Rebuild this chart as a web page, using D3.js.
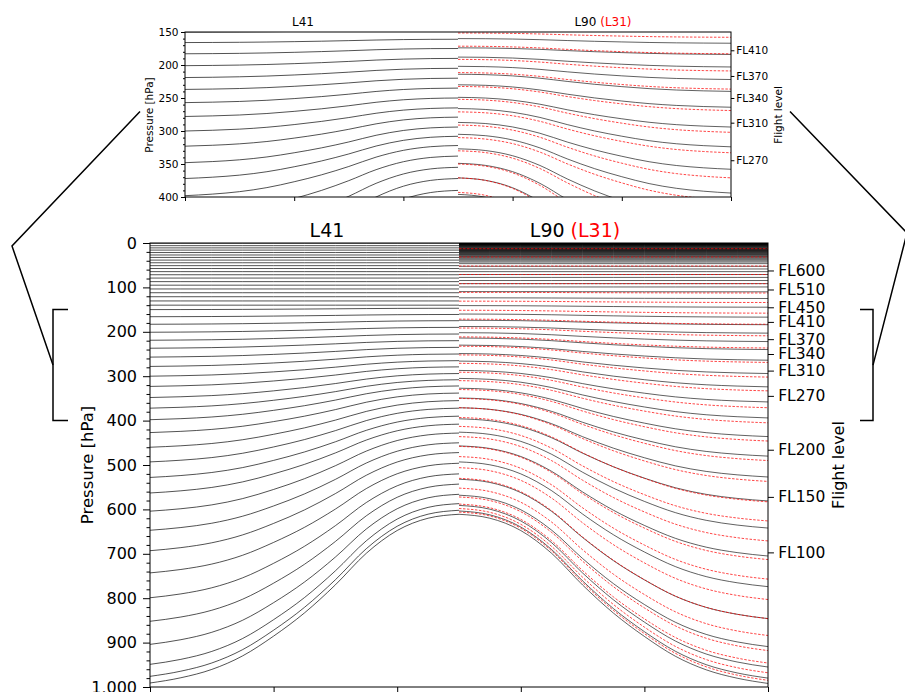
<!DOCTYPE html>
<html>
<head>
<meta charset="utf-8">
<script src="https://cdn.jsdelivr.net/npm/d3@7"></script>
<style>
  body { margin: 0; background: #fff; }
  svg { display: block; }
  text { font-family: "DejaVu Sans", sans-serif; fill: #000; }
</style>
</head>
<body>
<script>
// ---------------- data ----------------
const xTicks = [0, 1, 2, 3, 4, 5];
const pressureTicks = [0, 100, 200, 300, 400, 500, 600, 700, 800, 900, 1000];
const insetPressureTicks = [150, 200, 250, 300, 350, 400];
const flightLevels = ["FL600", "FL510", "FL450", "FL410", "FL370", "FL340", "FL310", "FL270", "FL200", "FL150", "FL100"];
const flightLevelPressure = [61.9, 104.7, 144.8, 177.7, 216.6, 250.0, 287.4, 344.3, 465.6, 571.8, 696.8];
const insetFlightLevels = ["FL410", "FL370", "FL340", "FL310", "FL270"];
const insetFlightLevelPressure = [177.7, 216.6, 250.0, 287.4, 344.3];

// idealised mountain: surface pressure (hPa) along the x axis
const terrainX = [0, 0.25, 0.5, 0.75, 1, 1.25, 1.5, 1.75, 2, 2.25, 2.5, 2.75, 3, 3.25, 3.5, 3.75, 4, 4.25, 4.5, 4.75, 5];
const surfacePressure = [1000, 988, 969, 938, 893, 840, 776, 704, 652, 624, 615, 624, 652, 704, 776, 840, 893, 938, 969, 988, 1000];

// L41: pure pressure levels (hPa) and hybrid levels (pressure over the plain / over the summit)
const l41Flat = [0.5, 6, 11, 16, 21.5, 27, 32.5, 38.5, 44.5, 51, 57.5, 64.5, 71.5, 79, 87, 95, 103.5, 112, 121, 130.5, 140];
const l41Edge = [150, 166, 183, 201, 219, 237, 257, 278, 300, 323, 348, 372, 398, 427, 460, 493, 528, 563, 604, 647, 693, 743, 799, 852, 904, 949, 976, 991];
const l41Peak = [147, 161, 175, 190, 205, 220, 235, 250, 265, 279, 294, 308, 322, 338, 355, 372, 390, 408, 428, 450, 472, 496, 520, 543, 566, 587, 602, 611];

// L90
const l90Flat = [0.01, 0.02, 0.03, 0.045, 0.065, 0.09, 0.12, 0.16, 0.21, 0.27, 0.35, 0.45, 0.57, 0.72, 0.9,
  1.1, 1.35, 1.65, 2.0, 2.4, 2.85, 3.35, 3.9, 4.5, 5.2, 5.9, 6.7, 7.5, 8.4, 9.4,
  10.6, 11.6, 12.5, 13.4, 14.3, 15.2, 16.1, 17.0, 17.9, 18.9, 19.9, 21.0, 22.1, 23.3, 24.5,
  25.8, 27.2, 28.7, 30.3, 32.0, 33.8, 35.8, 38.0, 40.4, 43.0,
  46.5, 52.5, 58.5, 64.5, 71, 77.5, 84.5, 91.5, 99];
const l90Edge = [110, 125, 144.6, 167, 184, 203, 222, 240, 264, 294, 324, 358, 394, 436, 480, 527, 581, 642, 705, 774, 846, 909, 955, 980, 992];
const l90Peak = [109.5, 123.5, 141, 160, 174, 188, 202, 214, 230, 249, 266, 287, 305, 327, 349, 371, 396, 426, 457, 493, 532, 568, 591, 603.5, 611];

// L31
const l31Edge = [12.8, 31.5, 51.8, 71, 91.6, 112.6, 134, 158, 183, 209, 236.5, 269, 302, 333, 371, 405, 446, 490, 537, 583, 626, 671, 713, 757, 803, 846, 884, 918, 946, 968, 985];
const l31Peak = [12.8, 31.5, 51.8, 71, 91.6, 111.2, 131, 151.5, 171.5, 191.5, 211.5, 232.5, 252, 271, 291, 310, 330, 350, 371, 393, 413, 436, 458, 481, 506, 530, 552, 572, 588, 598, 606];

// ---------------- build ----------------
const W = 905, H = 692;
const svg = d3.select("body").append("svg").attr("width", W).attr("height", H);
const defs = svg.append("defs");

const psRef = d3.max(surfacePressure), psMin = d3.min(surfacePressure);
function hybrid(edge, peak) {
  const b = (edge - peak) / (psRef - psMin);
  return { a: edge - b * psRef, b };
}
const levelsL41 = l41Flat.map(p => hybrid(p, p)).concat(l41Edge.map((e, i) => hybrid(e, l41Peak[i])));
const levelsL90 = l90Flat.map(p => hybrid(p, p)).concat(l90Edge.map((e, i) => hybrid(e, l90Peak[i])));
const levelsL31 = l31Edge.map((e, i) => hybrid(e, l31Peak[i]));

const terrain = terrainX.map((x, i) => ({ x, ps: surfacePressure[i] }));
const mid = (d3.min(terrainX) + d3.max(terrainX)) / 2;
const leftT = terrain.filter(d => d.x <= mid);
const rightT = terrain.filter(d => d.x >= mid);

function drawLevels(g, x, y, clipId) {
  const line = d3.line().x(d => x(d.x)).y(d => y(d.p)).curve(d3.curveMonotoneX);
  const body = g.append("g").attr("clip-path", `url(#${clipId})`);
  const pts = (lv, T) => T.map(t => ({ x: t.x, p: lv.a + lv.b * t.ps }));
  body.append("g").selectAll("path").data(levelsL41).join("path")
    .attr("d", lv => line(pts(lv, leftT)))
    .attr("fill", "none").attr("stroke", "#000").attr("stroke-opacity", 0.68).attr("stroke-width", 1);
  body.append("g").selectAll("path").data(levelsL90).join("path")
    .attr("d", lv => line(pts(lv, rightT)))
    .attr("fill", "none").attr("stroke", "#000").attr("stroke-opacity", 0.62).attr("stroke-width", 1);
  body.append("g").selectAll("path").data(levelsL31).join("path")
    .attr("d", lv => line(pts(lv, rightT)))
    .attr("fill", "none").attr("stroke", "#ff0000").attr("stroke-opacity", 0.72)
    .attr("stroke-width", 1).attr("stroke-dasharray", "2.5,1.5");
}

function styleAxis(g, fs) {
  g.select(".domain").remove();
  g.selectAll(".tick line").attr("stroke", "#000");
  g.selectAll(".tick text").attr("font-size", fs).attr("font-family", "DejaVu Sans, sans-serif").attr("fill", "#000");
}

function panel(opts) {
  const { x, y, clipId, fs, major, minorStep, flVals, flLabels, tick, pad } = opts;
  const [x0, x1] = x.range(), [y0, y1] = y.range();
  defs.append("clipPath").attr("id", clipId).append("rect")
    .attr("x", x0).attr("y", y0).attr("width", x1 - x0).attr("height", y1 - y0);
  const g = svg.append("g");
  drawLevels(g, x, y, clipId);
  g.append("rect").attr("x", x0).attr("y", y0).attr("width", x1 - x0).attr("height", y1 - y0)
    .attr("fill", "none").attr("stroke", "#000").attr("stroke-width", 1);
  const [d0, d1] = y.domain();
  const minor = d3.range(d0, d1 + 0.001, minorStep).filter(v => major.indexOf(v) < 0);
  g.append("g").attr("transform", `translate(${x0},0)`)
    .call(d3.axisLeft(y).tickValues(minor).tickSize(tick * 0.5).tickFormat(""))
    .call(a => styleAxis(a, fs));
  g.append("g").attr("transform", `translate(${x0},0)`)
    .call(d3.axisLeft(y).tickValues(major).tickSize(tick).tickPadding(pad))
    .call(a => styleAxis(a, fs));
  g.append("g").attr("transform", `translate(${x1},0)`)
    .call(d3.axisRight(y).tickValues(flVals).tickFormat((d, i) => flLabels[i]).tickSize(tick * 0.85).tickPadding(pad * 0.7))
    .call(a => styleAxis(a, opts.flfs || fs));
  g.append("g").attr("transform", `translate(0,${y1})`)
    .call(d3.axisBottom(x).tickValues(xTicks).tickSize(tick).tickFormat(""))
    .call(a => styleAxis(a, fs));
  return g;
}

// main panel
const xMain = d3.scaleLinear().domain([0, 5]).range([150, 768]);
const yMain = d3.scaleLinear().domain([0, 1000]).range([243, 687]);
panel({ x: xMain, y: yMain, clipId: "clipMain", fs: 16, flfs: 15.5, major: pressureTicks, minorStep: 20,
  flVals: flightLevelPressure, flLabels: flightLevels, tick: 7, pad: 6 });

// inset panel
const xIn = d3.scaleLinear().domain([0, 5]).range([185, 731]);
const yIn = d3.scaleLinear().domain([150, 400]).range([32, 197]);
panel({ x: xIn, y: yIn, clipId: "clipInset", fs: 10.5, major: insetPressureTicks, minorStep: 10,
  flVals: insetFlightLevelPressure, flLabels: insetFlightLevels, tick: 4, pad: 2.5 });

// titles
function title(xp, yp, fs, parts) {
  const t = svg.append("text").attr("x", xp).attr("y", yp).attr("text-anchor", "middle").attr("font-size", fs);
  parts.forEach(p => t.append("tspan").text(p[0]).attr("fill", p[1]));
}
title(327, 237, 19, [["L41", "#000"]]);
title(575, 237, 19, [["L90 ", "#000"], ["(L31)", "#ff0000"]]);
title(303, 26, 12, [["L41", "#000"]]);
title(603, 26, 12, [["L90 ", "#000"], ["(L31)", "#ff0000"]]);

function vlabel(xp, yp, fs, txt) {
  svg.append("text").attr("transform", `translate(${xp},${yp}) rotate(-90)`)
    .attr("text-anchor", "middle").attr("dy", "0.32em").attr("font-size", fs).text(txt);
}
vlabel(88, 465, 16.5, "Pressure [hPa]");
vlabel(839, 465, 16, "Flight level");
vlabel(150, 115, 10.5, "Pressure [hPa]");
vlabel(779, 115, 10.5, "Flight level");

// zoom brackets and connectors
const yb0 = yMain(150), yb1 = yMain(400), ybm = (yb0 + yb1) / 2;
const inMid = (yIn.range()[0] + yIn.range()[1]) / 2 - 3;
const conn = svg.append("g").attr("fill", "none").attr("stroke", "#000").attr("stroke-width", 1.5);
conn.append("path").attr("d", `M68,${yb0}H53V${yb1}H68`);
conn.append("path").attr("d", `M53,${ybm}L12,246L140,${inMid}`);
conn.append("path").attr("d", `M860,${yb0}H873V${yb1}H860`);
conn.append("path").attr("d", `M873,${ybm}L907,233L790,${inMid}`);
</script>
</body>
</html>
